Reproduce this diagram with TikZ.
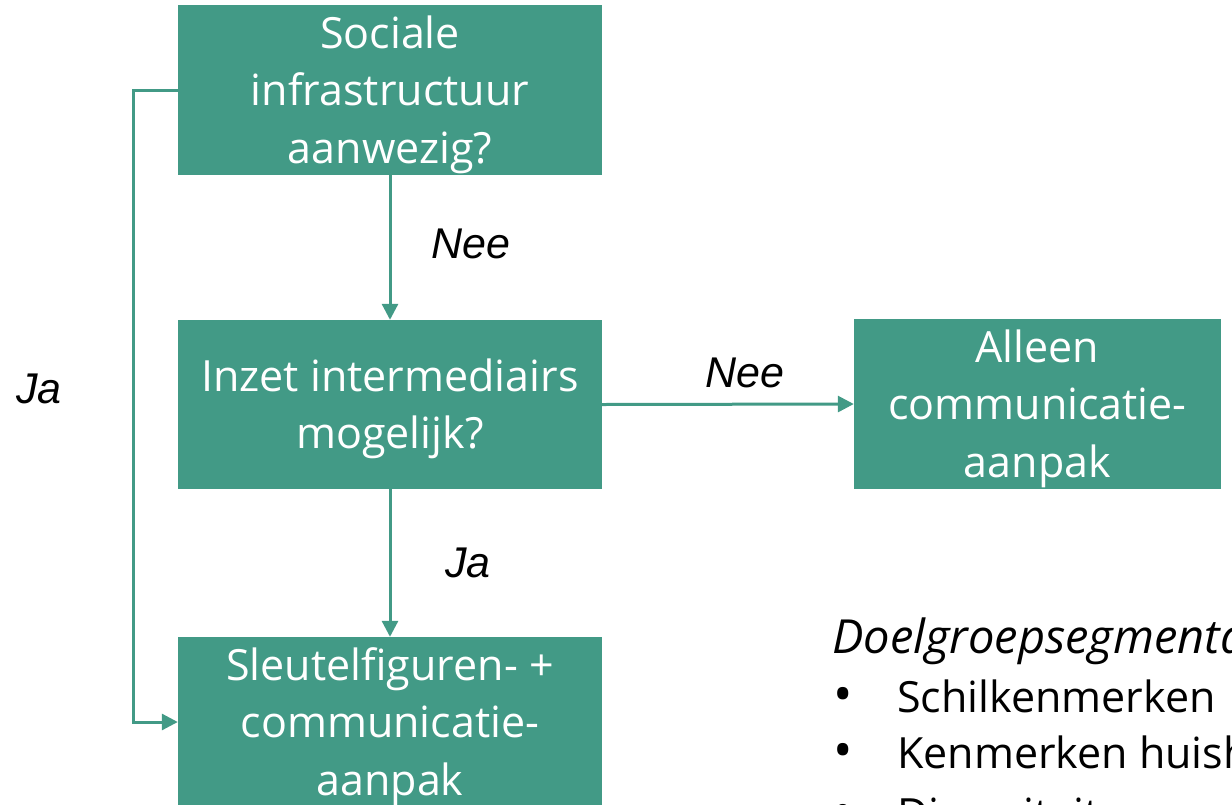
\documentclass[tikz,border=0pt]{standalone}
\usepackage{fontspec}
\setmainfont{Open Sans}
\newfontfamily\labfont{Liberation Sans}
\usetikzlibrary{arrows.meta}
\definecolor{teal1}{HTML}{429A86}
\newcommand{\btxt}[2]{\raisebox{-4.5pt}[\height][\depth]{\parbox{#1}{\centering #2}}}
\tikzset{
  box/.style={fill=teal1, draw=none, text=white, align=center, inner sep=0pt,
    font=\fontsize{43}{57.5}\selectfont},
  conn/.style={draw=teal1, line width=3pt, -{Triangle[length=16pt,width=16pt]}},
  lab/.style={font=\labfont\itshape\fontsize{43}{50}\selectfont, anchor=base, inner sep=0pt},
  body/.style={anchor=base west, inner sep=0pt, font=\fontsize{43}{57}\selectfont},
}
\begin{document}
\begin{tikzpicture}[x=1pt,y=-1pt]
\useasboundingbox (0,0) rectangle (1232,804);
\clip (0,0) rectangle (1232,804);
\node[box, minimum width=424pt, minimum height=170pt] (b1) at (390,90) {\btxt{424pt}{Sociale\\infrastructuur\\aanwezig?}};
\node[box, minimum width=424pt, minimum height=169pt] (b2) at (390,404.5) {\btxt{424pt}{Inzet intermediairs\\mogelijk?}};
\node[box, minimum width=424pt, minimum height=170pt] (b3) at (390,722) {\btxt{424pt}{Sleutelfiguren- +\\communicatie-\\aanpak}};
\node[box, minimum width=367pt, minimum height=170pt] (b4) at (1037.5,404) {\btxt{367pt}{Alleen\\communicatie-\\aanpak}};
\draw[conn] (b1.south) -- (b2.north);
\draw[conn] (b2.south) -- (b3.north);
\draw[conn] (b2.east) -- (b4.west);
\coordinate (lp) at (133,90);
\draw[conn] (b1.west) -- (lp) |- (b3.west);
\node[lab] (n1) at (471,258) {Nee};
\node[lab] (n2) at (745,387) {Nee};
\node[lab] (j1) at (39,403) {Ja};
\node[lab] (j2) at (468,577) {Ja};
\node[anchor=base west, inner sep=0pt, font=\itshape\fontsize{47}{57}\selectfont] (dg) at (832,653) {Doelgroepsegmentatie:};
\foreach \t/\yy [count=\i] in {Schilkenmerken/712, Kenmerken huishoudens/768, Diversiteit/829}{
  \node[anchor=base, inner sep=0pt, font=\fontsize{43}{57}\selectfont] (bu\i) at (843,\yy) {\scalebox{1.2}{\textbullet}};
  \node[body] (it\i) at (897,\yy) {\t};
}
\end{tikzpicture}
\end{document}
